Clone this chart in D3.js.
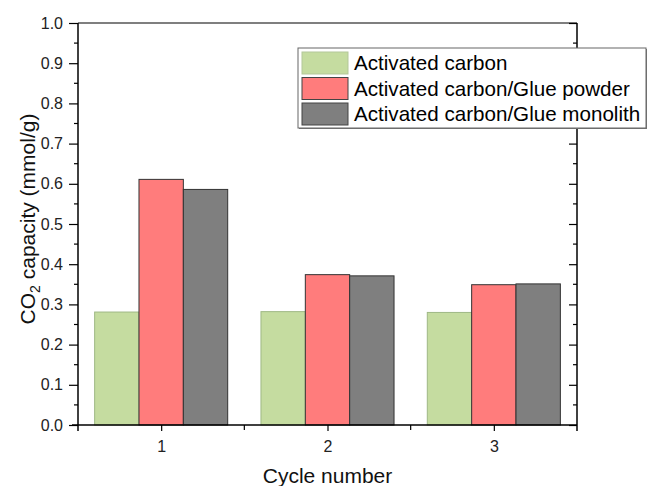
<!DOCTYPE html>
<html>
<head>
<meta charset="utf-8">
<script src="https://cdn.jsdelivr.net/npm/d3@7"></script>
<style>
  body { margin: 0; background: #fff; }
  svg { font-family: "Liberation Sans", Arial, sans-serif; }
</style>
</head>
<body>
<div id="chart"></div>
<script>
const cycles = [1, 2, 3];
const seriesNames = ["Activated carbon", "Activated carbon/Glue powder", "Activated carbon/Glue monolith"];
const activatedCarbon = [0.281, 0.282, 0.280];
const gluePowder = [0.611, 0.374, 0.349];
const glueMonolith = [0.586, 0.371, 0.351];
const yTicks = [0.0, 0.1, 0.2, 0.3, 0.4, 0.5, 0.6, 0.7, 0.8, 0.9, 1.0];

const fills = ["#c5dca0", "#ff7c7c", "#7f7f7f"];
const strokes = ["#9fb885", "#333333", "#333333"];
const seriesValues = [activatedCarbon, gluePowder, glueMonolith];

const width = 648, height = 486;
const margin = { left: 78, right: 71, top: 23, bottom: 61 };

const svg = d3.select("#chart").append("svg")
    .attr("width", width)
    .attr("height", height);

const x = d3.scaleLinear().domain([0.5, 3.5]).range([margin.left, width - margin.right]);
const y = d3.scaleLinear().domain([0, 1]).range([height - margin.bottom, margin.top]);

const groupWidth = 0.8;
const barW = groupWidth / seriesNames.length;

// bars
seriesValues.forEach((vals, s) => {
    svg.append("g").selectAll("rect")
        .data(vals.map((v, i) => ({ cycle: cycles[i], value: v })))
        .enter().append("rect")
        .attr("x", d => x(d.cycle - groupWidth / 2 + s * barW))
        .attr("width", x(barW) - x(0))
        .attr("y", d => y(d.value))
        .attr("height", d => y(0) - y(d.value))
        .attr("fill", fills[s])
        .attr("stroke", strokes[s])
        .attr("stroke-width", 1);
});

// frame
const x0 = x.range()[0], x1 = x.range()[1];
const yb = y(0), yt = y(1);
svg.append("line").attr("x1", x0).attr("x2", x1).attr("y1", yt).attr("y2", yt)
    .attr("stroke", "#000").attr("stroke-width", 1.2);

const minorY = d3.range(0, 20).map(i => i * 0.05 + 0.05).filter(v => Math.round(v * 100) % 10 !== 0 && v < 1);
const minorX = [1.5, 2.5];

// left axis
const leftAxis = svg.append("g")
    .attr("transform", `translate(${x0},0)`)
    .call(d3.axisLeft(y).tickValues(yTicks).tickFormat(d3.format(".1f")).tickSize(9).tickSizeOuter(0));
leftAxis.selectAll(".minor").data(minorY).enter().append("line")
    .attr("x1", -4).attr("x2", 0).attr("y1", d => y(d)).attr("y2", d => y(d))
    .attr("stroke", "#000").attr("stroke-width", 1.2);

// right axis (ticks inward)
const rightAxis = svg.append("g")
    .attr("transform", `translate(${x1},0)`)
    .call(d3.axisRight(y).tickValues(yTicks).tickFormat("").tickSize(-8).tickSizeOuter(0));
rightAxis.selectAll(".minor").data(minorY).enter().append("line")
    .attr("x1", -4).attr("x2", 0).attr("y1", d => y(d)).attr("y2", d => y(d))
    .attr("stroke", "#000").attr("stroke-width", 1.2);

// bottom axis
const bottomAxis = svg.append("g")
    .attr("transform", `translate(0,${yb})`)
    .call(d3.axisBottom(x).tickValues(cycles).tickFormat(d3.format("d")).tickSize(6).tickSizeOuter(0));
bottomAxis.selectAll(".minor").data(minorX).enter().append("line")
    .attr("x1", d => x(d)).attr("x2", d => x(d)).attr("y1", 0).attr("y2", 5)
    .attr("stroke", "#000").attr("stroke-width", 1.2);

[leftAxis, rightAxis, bottomAxis].forEach(g => {
    g.attr("font-size", 16).attr("font-family", "Liberation Sans, Arial, sans-serif");
    g.select(".domain").attr("stroke", "#000").attr("stroke-width", 1.5);
    g.selectAll(".tick line").attr("stroke", "#000").attr("stroke-width", 1.2);
    g.selectAll(".tick text").attr("fill", "#222");
});
leftAxis.select(".domain").attr("d", `M0,${yt}V${yb + 6}`);
rightAxis.select(".domain").attr("d", `M0,${yt}V${yb + 6}`);
bottomAxis.select(".domain").attr("d", `M${x0 - 6},0H${x1}`);
leftAxis.selectAll(".tick text").attr("x", -15);
bottomAxis.selectAll(".tick text").attr("y", 16);

// axis titles
svg.append("text")
    .attr("x", x(2)).attr("y", 483)
    .attr("text-anchor", "middle")
    .attr("font-size", 21).attr("fill", "#111")
    .text("Cycle number");

const yTitle = svg.append("text")
    .attr("transform", `translate(35,219) rotate(-90)`)
    .attr("text-anchor", "middle")
    .attr("font-size", 21).attr("fill", "#111");
yTitle.append("tspan").text("CO");
yTitle.append("tspan").attr("font-size", 14).attr("dy", 5).text("2");
yTitle.append("tspan").attr("dy", -5).text(" capacity (mmol/g)");

// legend
const legend = svg.append("g").attr("transform", "translate(298,48)");
legend.append("rect")
    .attr("x", 1).attr("y", 1).attr("width", 348).attr("height", 80)
    .attr("fill", "#777");
legend.append("rect")
    .attr("width", 348).attr("height", 80)
    .attr("fill", "#fff").attr("stroke", "#666").attr("stroke-width", 1);
seriesNames.forEach((name, i) => {
    const row = legend.append("g").attr("transform", `translate(4,${4 + i * 25.5})`);
    row.append("rect")
        .attr("width", 46).attr("height", 22)
        .attr("fill", fills[i]).attr("stroke", strokes[i] === "#333333" ? "#444" : "#b3c79a").attr("stroke-width", 1);
    row.append("text")
        .attr("x", 52).attr("y", 18)
        .attr("font-size", 20.6).attr("fill", "#000")
        .text(name);
});
</script>
</body>
</html>
